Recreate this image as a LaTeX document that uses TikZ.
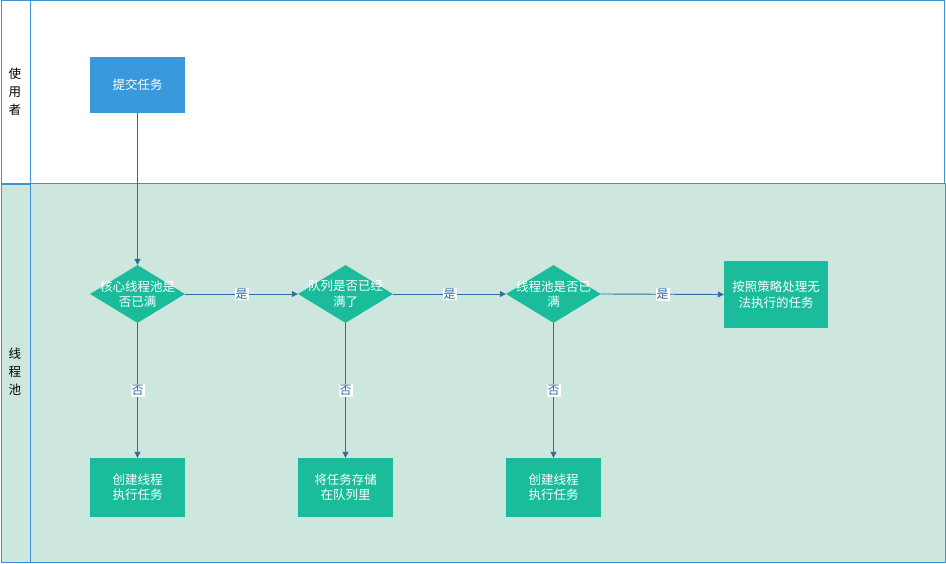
\documentclass[tikz,border=0pt]{standalone}
\usepackage{fontspec}
\setmainfont{Noto Sans CJK SC}
\usetikzlibrary{shapes.geometric,arrows.meta}
\definecolor{tealc}{HTML}{1ABC9C}
\definecolor{bluec}{HTML}{3A99DB}
\definecolor{lanebg}{HTML}{CDE7DF}
\definecolor{laneline}{HTML}{3C92D6}
\definecolor{arrowc}{HTML}{2D6BA3}
\begin{document}
\begin{tikzpicture}[x=1pt,y=-1pt,
  nodefont/.style={font=\fontsize{12.5}{15.5}\selectfont},
  procbox/.style={rectangle,fill=tealc,text=white,align=center,minimum width=95pt,minimum height=59pt,inner sep=0pt,nodefont},
  submitbox/.style={procbox,fill=bluec},
  decbox/.style={diamond,fill=tealc,minimum width=95pt,minimum height=58pt,inner sep=0pt},
  dectext/.style={text=white,align=center,inner sep=0pt,nodefont},
  flow/.style={draw=arrowc,line width=0.9pt,-{Triangle[length=6pt,width=6pt]}},
  edgelabel/.style={fill=white,text=arrowc,inner sep=1pt,font=\fontsize{12}{14}\selectfont},
  lanelabel/.style={align=center,text=black,font=\fontsize{12.5}{18}\selectfont,inner sep=0pt},
  laneborder/.style={draw=laneline,line width=1pt}
]
\useasboundingbox (0,0) rectangle (946,564);
% lanes
\fill[white] (1,1) rectangle (944,184);
\fill[lanebg] (1,184) rectangle (945,562);
\draw[laneborder] (1,1) rectangle (944,184);
\draw[laneborder] (1,184) rectangle (945,562);
\draw[laneborder] (30,1) -- (30,562);
\draw[draw=laneline,line width=2pt] (1,184) -- (30,184);
\node[lanelabel] (lane1) at (15,92) {使\\用\\者};
\node[lanelabel] (lane2) at (15,372) {线\\程\\池};
% nodes
\node[submitbox,minimum height=56pt] (submit) at (137.5,85) {提交任务};
\node[decbox] (d1) at (137.5,294) {};
\node[dectext] (t1) at (d1.center) {核心线程池是\\否已满};
\node[decbox] (d2) at (345.5,294) {};
\node[dectext] (t2) at (d2.center) {队列是否已经\\满了};
\node[decbox] (d3) at (553.5,294) {};
\node[dectext] (t3) at (d3.center) {线程池是否已\\满};
\node[procbox,minimum width=104pt,minimum height=67pt] (reject) at (776,294.5) {按照策略处理无\\法执行的任务};
\node[procbox] (r1) at (137.5,487.5) {创建线程\\执行任务};
\node[procbox] (r2) at (345.5,487.5) {将任务存储\\在队列里};
\node[procbox] (r3) at (553.5,487.5) {创建线程\\执行任务};
% connectors
\draw[flow] (submit.south) -- (d1.north);
\draw[flow] (d1.east) -- node[edgelabel] {是} (d2.west);
\draw[flow] (d2.east) -- node[edgelabel] {是} (d3.west);
\draw[flow] (d3.east) -- node[edgelabel] {是} (reject.west);
\draw[flow] (d1.south) -- node[edgelabel] {否} (r1.north);
\draw[flow] (d2.south) -- node[edgelabel] {否} (r2.north);
\draw[flow] (d3.south) -- node[edgelabel] {否} (r3.north);
\end{tikzpicture}
\end{document}
